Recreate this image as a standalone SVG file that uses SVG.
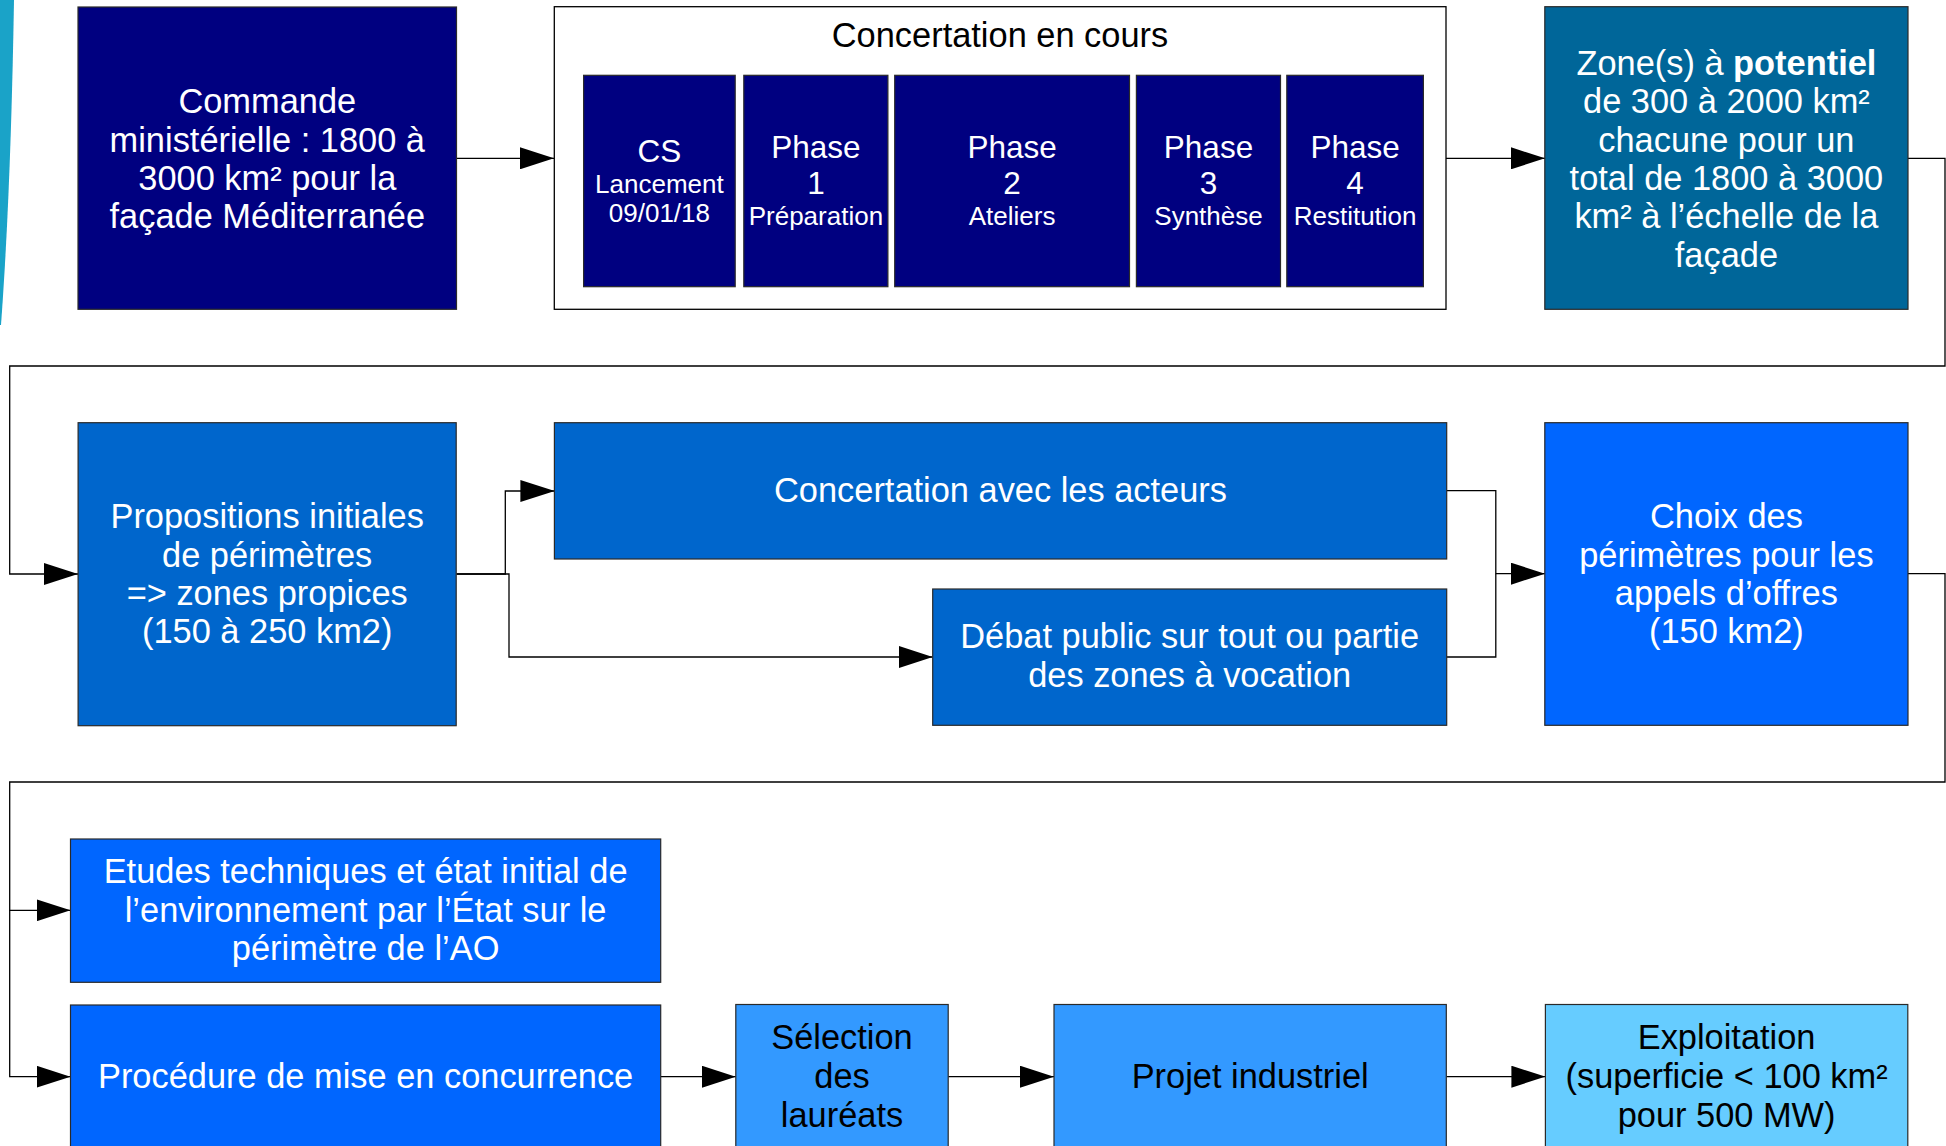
<svg xmlns="http://www.w3.org/2000/svg" width="1946" height="1146" viewBox="0 0 1946 1146">
<style>
.b{stroke:#2a2a2a;stroke-width:1.2}
.t{font-family:"Liberation Sans",Arial,sans-serif;font-size:34.4px;text-anchor:middle;fill:#fff}
.k{fill:#000}
.s{font-size:31.5px}
.m{font-size:26px}
.c{fill:none;stroke:#000;stroke-width:1.3}
</style>
<defs>
<marker id="a" markerUnits="userSpaceOnUse" viewBox="0 0 34 22" markerWidth="34" markerHeight="22" refX="34" refY="11" orient="auto">
<path d="M0,0 L34,11 L0,22 Z" fill="#000"/>
</marker>
</defs>
<rect width="1946" height="1146" fill="#fff"/>
<path d="M0,0 H14 C12,120 8,230 1,325 H0 Z" fill="#1aa3c8"/>
<g id="connectors">
<path class="c" d="M457,158.3 H554" marker-end="url(#a)"/>
<path class="c" d="M1446,158.3 H1545" marker-end="url(#a)"/>
<path class="c" d="M1908,158.3 H1945 V366 H9.7 V574 H78" marker-end="url(#a)"/>
<path class="c" d="M456.5,574 H505.3 V491 H554.4" marker-end="url(#a)"/>
<path class="c" d="M456.5,574 H509 V657 H932.7" marker-end="url(#a)"/>
<path class="c" d="M1446.7,490.7 H1495.8 V573.7 H1545" marker-end="url(#a)"/>
<path class="c" d="M1446.7,657 H1495.8 V573.7"/>
<path class="c" d="M1908,573.7 H1945 V782 H9.7 V910.3 H70.5" marker-end="url(#a)"/>
<path class="c" d="M9.7,910.3 V1076.7 H70.5" marker-end="url(#a)"/>
<path class="c" d="M660.7,1076.7 H735.8" marker-end="url(#a)"/>
<path class="c" d="M948.2,1076.7 H1054" marker-end="url(#a)"/>
<path class="c" d="M1446.3,1076.7 H1545.4" marker-end="url(#a)"/>
</g>
<g id="commande">
<rect class="b" x="78" y="7" width="378.5" height="302.3" fill="#000080"/>
<text class="t" x="267.3"><tspan y="113.3" x="267.3">Commande</tspan><tspan y="151.7" x="267.3">ministérielle : 1800 à</tspan><tspan y="190" x="267.3">3000 km² pour la</tspan><tspan y="228.3" x="267.3">façade Méditerranée</tspan></text>
</g>
<g id="concertation-en-cours">
<rect x="554.3" y="6.7" width="891.7" height="302.6" fill="#fff" stroke="#000" stroke-width="1.3"/>
<text class="t k" x="1000" y="46.7">Concertation en cours</text>
<g id="cs">
<rect class="b" x="583.6" y="75.3" width="151.6" height="211.4" fill="#000080"/>
<text class="t" x="659.4"><tspan class="s" x="659.4" y="161.7">CS</tspan><tspan class="m" x="659.4" y="192.7">Lancement</tspan><tspan class="m" x="659.4" y="221.7">09/01/18</tspan></text>
</g>
<g id="phase1">
<rect class="b" x="743.8" y="75.3" width="144.1" height="211.4" fill="#000080"/>
<text class="t" x="815.9"><tspan class="s" x="815.9" y="158.3">Phase</tspan><tspan class="s" x="815.9" y="194">1</tspan><tspan class="m" x="815.9" y="224.5">Préparation</tspan></text>
</g>
<g id="phase2">
<rect class="b" x="894.7" y="75.3" width="234.8" height="211.4" fill="#000080"/>
<text class="t" x="1012.1"><tspan class="s" x="1012.1" y="158.3">Phase</tspan><tspan class="s" x="1012.1" y="194">2</tspan><tspan class="m" x="1012.1" y="224.5">Ateliers</tspan></text>
</g>
<g id="phase3">
<rect class="b" x="1136.4" y="75.3" width="144.1" height="211.4" fill="#000080"/>
<text class="t" x="1208.5"><tspan class="s" x="1208.5" y="158.3">Phase</tspan><tspan class="s" x="1208.5" y="194">3</tspan><tspan class="m" x="1208.5" y="224.5">Synthèse</tspan></text>
</g>
<g id="phase4">
<rect class="b" x="1286.8" y="75.3" width="136.6" height="211.4" fill="#000080"/>
<text class="t" x="1355.1"><tspan class="s" x="1355.1" y="158.3">Phase</tspan><tspan class="s" x="1355.1" y="194">4</tspan><tspan class="m" x="1355.1" y="224.5">Restitution</tspan></text>
</g>
</g>
<g id="zone">
<rect class="b" x="1544.8" y="6.7" width="363.2" height="302.6" fill="#006699"/>
<text class="t" x="1726.4"><tspan x="1726.4" y="75">Zone(s) à <tspan font-weight="bold">potentiel</tspan></tspan><tspan x="1726.4" y="113.3">de 300 à 2000 km²</tspan><tspan x="1726.4" y="151.7">chacune pour un</tspan><tspan x="1726.4" y="190">total de 1800 à 3000</tspan><tspan x="1726.4" y="228.3">km² à l’échelle de la</tspan><tspan x="1726.4" y="266.7">façade</tspan></text>
</g>
<g id="propositions">
<rect class="b" x="78.1" y="422.7" width="378.1" height="303" fill="#0066cc"/>
<text class="t" x="267.2"><tspan x="267.2" y="528.3">Propositions initiales</tspan><tspan x="267.2" y="566.7">de périmètres</tspan><tspan x="267.2" y="605">=&gt; zones propices</tspan><tspan x="267.2" y="643.3">(150 à 250 km2)</tspan></text>
</g>
<g id="concertation-acteurs">
<rect class="b" x="554.4" y="422.7" width="892.3" height="136.3" fill="#0066cc"/>
<text class="t" x="1000.5" y="501.7">Concertation avec les acteurs</text>
</g>
<g id="debat">
<rect class="b" x="932.7" y="589" width="514" height="136.3" fill="#0066cc"/>
<text class="t" x="1189.7"><tspan x="1189.7" y="648.3">Débat public sur tout ou partie</tspan><tspan x="1189.7" y="687">des zones à vocation</tspan></text>
</g>
<g id="choix">
<rect class="b" x="1544.8" y="422.7" width="363.2" height="302.6" fill="#0066ff"/>
<text class="t" x="1726.4"><tspan x="1726.4" y="528.3">Choix des</tspan><tspan x="1726.4" y="566.7">périmètres pour les</tspan><tspan x="1726.4" y="605">appels d’offres</tspan><tspan x="1726.4" y="643.3">(150 km2)</tspan></text>
</g>
<g id="etudes">
<rect class="b" x="70.5" y="839" width="590.2" height="143.3" fill="#0066ff"/>
<text class="t" x="365.6"><tspan x="365.6" y="883.3">Etudes techniques et état initial de</tspan><tspan x="365.6" y="921.7">l’environnement par l’État sur le</tspan><tspan x="365.6" y="960">périmètre de l’AO</tspan></text>
</g>
<g id="procedure">
<rect class="b" x="70.5" y="1005" width="590.2" height="160" fill="#0066ff"/>
<text class="t" x="365.6" y="1088.3">Procédure de mise en concurrence</text>
</g>
<g id="selection">
<rect class="b" x="735.8" y="1004.5" width="212.4" height="160" fill="#3399ff"/>
<text class="t k" x="842"><tspan x="842" y="1049.3">Sélection</tspan><tspan x="842" y="1088.3">des</tspan><tspan x="842" y="1126.7">lauréats</tspan></text>
</g>
<g id="projet">
<rect class="b" x="1054" y="1004.5" width="392.3" height="160" fill="#3399ff"/>
<text class="t k" x="1250.2" y="1088.3">Projet industriel</text>
</g>
<g id="exploitation">
<rect class="b" x="1545.4" y="1004.5" width="362.4" height="160" fill="#66ccff"/>
<text class="t k" x="1726.6"><tspan x="1726.6" y="1049.3">Exploitation</tspan><tspan x="1726.6" y="1088.3">(superficie &lt; 100 km²</tspan><tspan x="1726.6" y="1126.7">pour 500 MW)</tspan></text>
</g>
</svg>
